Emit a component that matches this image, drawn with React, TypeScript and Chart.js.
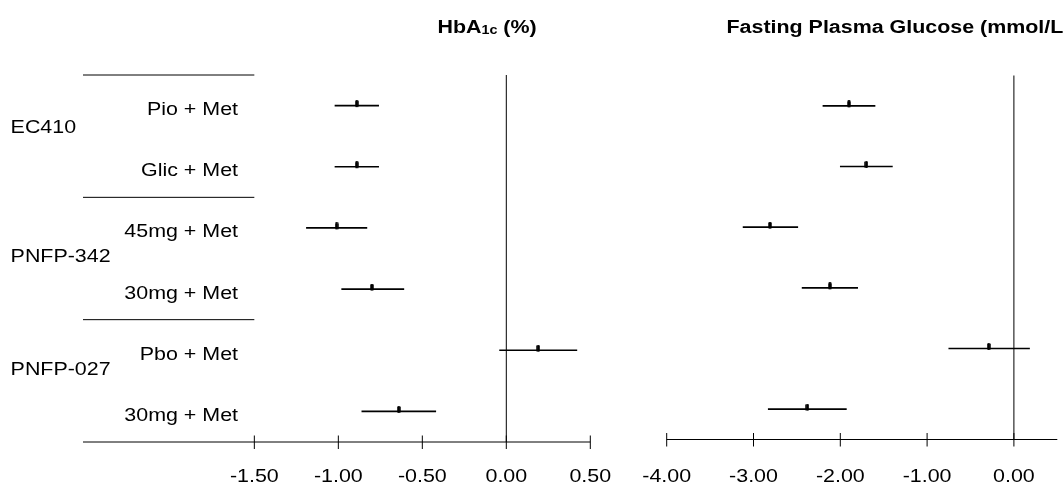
import React, { useEffect, useRef } from 'react';
import { Chart, registerables } from 'chart.js';

Chart.register(...registerables);

// ---------- data ----------
const categories = ['Pio + Met', 'Glic + Met', '45mg + Met', '30mg + Met', 'Pbo + Met', '30mg + Met'];
const groups = ['EC410', 'PNFP-342', 'PNFP-027'];
const groupStartRow = [0, 2, 4];

const hba1cMean = [-0.89, -0.89, -1.01, -0.8, 0.19, -0.64];
const hba1cLow = [-1.02, -1.02, -1.19, -0.98, -0.04, -0.86];
const hba1cHigh = [-0.76, -0.76, -0.83, -0.61, 0.42, -0.42];
const hba1cTicks = [-1.5, -1.0, -0.5, 0.0, 0.5];

const fpgMean = [-1.9, -1.7, -2.81, -2.12, -0.29, -2.38];
const fpgLow = [-2.2, -2.0, -3.12, -2.44, -0.75, -2.83];
const fpgHigh = [-1.6, -1.4, -2.49, -1.8, 0.18, -1.93];
const fpgTicks = [-4.0, -3.0, -2.0, -1.0, 0.0];

// ---------- layout / style ----------
const FONT = '"Liberation Sans", Arial, Helvetica, sans-serif';
const STRETCH = 1.19;
const GROUP_LABEL_BASELINE_ROW = [0.95, 3.05, 4.9];

type Seg = { text: string; size: number; dy: number };

function drawText(
  ctx: CanvasRenderingContext2D,
  text: string,
  x: number,
  y: number,
  size: number,
  bold: boolean,
  align: CanvasTextAlign
): number {
  ctx.save();
  ctx.font = `${bold ? 'bold ' : ''}${size}px ${FONT}`;
  ctx.textAlign = align;
  ctx.textBaseline = 'alphabetic';
  ctx.fillStyle = '#000';
  ctx.translate(x, y);
  ctx.scale(STRETCH, 1);
  ctx.fillText(text, 0, 0);
  const w = ctx.measureText(text).width * STRETCH;
  ctx.restore();
  return w;
}

function line(ctx: CanvasRenderingContext2D, x1: number, y1: number, x2: number, y2: number) {
  ctx.beginPath();
  ctx.moveTo(x1, y1);
  ctx.lineTo(x2, y2);
  ctx.stroke();
}

interface PanelCfg {
  mean: number[];
  low: number[];
  high: number[];
  ticks: number[];
  min: number;
  max: number;
  padding: { left: number; right: number; top: number; bottom: number };
  withLabels: boolean;
  title: Seg[];
  titleX: number;
  titleY: number;
  tickLabelY: number;
}

function makeDecor(cfg: PanelCfg) {
  return {
    id: 'forestDecor',
    beforeDatasetsDraw(chart: any) {
      const { ctx, chartArea } = chart;
      const x = chart.scales.x;
      const y = chart.scales.y;
      ctx.save();
      ctx.strokeStyle = '#000';
      ctx.lineWidth = 1;
      const axisY = chartArea.bottom;
      // axis line
      line(ctx, chartArea.left, axisY, chartArea.right, axisY);
      // ticks + labels
      for (const t of x.ticks) {
        const px = x.getPixelForValue(t.value);
        line(ctx, px, axisY - 6.5, px, axisY + 7);
        drawText(ctx, Number(t.value).toFixed(2), px, cfg.tickLabelY, 18, false, 'center');
      }
      // zero reference line
      const p0 = x.getPixelForValue(0);
      line(ctx, p0, chartArea.top, p0, axisY);

      if (cfg.withLabels) {
        const colEnd = x.getPixelForValue(cfg.ticks[0]);
        for (let g = 0; g < groups.length; g++) {
          const sy = y.getPixelForValue(groupStartRow[g]);
          line(ctx, chartArea.left, sy, colEnd, sy);
          drawText(ctx, groups[g], 10.6, y.getPixelForValue(GROUP_LABEL_BASELINE_ROW[g]), 18, false, 'left');
        }
        categories.forEach((c, i) => {
          drawText(ctx, c, colEnd - 16.3, y.getPixelForValue(i + 0.5) + 9.5, 18, false, 'right');
        });
      }
      // title
      let tx = cfg.titleX;
      for (const s of cfg.title) {
        tx += drawText(ctx, s.text, tx, cfg.titleY + s.dy, s.size, true, 'left');
      }
      ctx.restore();
    },
  };
}

function makeMarker(): HTMLCanvasElement {
  const c = document.createElement('canvas');
  c.width = 4;
  c.height = 11;
  const g = c.getContext('2d')!;
  g.fillStyle = '#000';
  g.beginPath();
  if ((g as any).roundRect) {
    (g as any).roundRect(0.25, 0, 3.5, 7, 1.5);
  } else {
    g.rect(0.25, 0, 3.5, 7);
  }
  g.fill();
  return c;
}

function buildChart(canvas: HTMLCanvasElement, cfg: PanelCfg) {
  const marker = makeMarker();
  return new Chart(canvas, {
    type: 'bar',
    data: {
      datasets: [
        {
          type: 'scatter',
          data: cfg.mean.map((m, i) => ({ x: m, y: i + 0.5 })),
          pointStyle: marker as any,
          radius: 3,
          order: 0,
        } as any,
        {
          type: 'bar',
          data: cfg.low.map((l, i) => ({ x: [l, cfg.high[i]], y: i + 0.5 })),
          backgroundColor: '#000',
          borderWidth: 0,
          barThickness: 1,
          grouped: false,
          indexAxis: 'y',
          order: 1,
        } as any,
      ],
    },
    options: {
      animation: false,
      responsive: false,
      devicePixelRatio: 1,
      indexAxis: 'y',
      events: [],
      layout: { padding: cfg.padding },
      plugins: { legend: { display: false }, tooltip: { enabled: false } },
      scales: {
        x: {
          type: 'linear',
          min: cfg.min,
          max: cfg.max,
          offset: false,
          afterBuildTicks: (s: any) => {
            s.ticks = cfg.ticks.map((v) => ({ value: v }));
          },
          ticks: { display: false },
          grid: { display: false, drawTicks: false, offset: false },
          border: { display: false },
        },
        y: {
          type: 'linear',
          min: 0,
          max: categories.length,
          reverse: true,
          offset: false,
          grid: { offset: false },
          display: false,
        },
      },
    } as any,
    plugins: [makeDecor(cfg) as any],
  });
}

export default function App() {
  const leftRef = useRef<HTMLCanvasElement>(null);
  const rightRef = useRef<HTMLCanvasElement>(null);

  useEffect(() => {
    const left = buildChart(leftRef.current!, {
      mean: hba1cMean,
      low: hba1cLow,
      high: hba1cHigh,
      ticks: hba1cTicks,
      min: -2.52,
      max: 0.5,
      padding: { left: 83, right: 29.7, top: 75, bottom: 42 },
      withLabels: true,
      title: [
        { text: 'HbA', size: 18, dy: 0 },
        { text: '1c', size: 12, dy: 1 },
        { text: ' (%)', size: 18, dy: 0 },
      ],
      titleX: 437.5,
      titleY: 33.3,
      tickLabelY: 482.3,
    });
    const right = buildChart(rightRef.current!, {
      mean: fpgMean,
      low: fpgLow,
      high: fpgHigh,
      ticks: fpgTicks,
      min: -4,
      max: 0.5,
      padding: { left: 46.7, right: 5.7, top: 75.5, bottom: 44.5 },
      withLabels: false,
      title: [{ text: 'Fasting Plasma Glucose (mmol/L)', size: 18, dy: 0 }],
      titleX: 106.5,
      titleY: 33.3,
      tickLabelY: 482.3,
    });
    return () => {
      left.destroy();
      right.destroy();
    };
  }, []);

  return (
    <div
      style={{
        position: 'fixed',
        left: 0,
        top: 0,
        width: 1063,
        height: 484,
        background: '#fff',
        overflow: 'hidden',
      }}
    >
      <canvas
        ref={leftRef}
        width={620}
        height={484}
        style={{ position: 'absolute', left: 0, top: 0, width: 620, height: 484 }}
      />
      <canvas
        ref={rightRef}
        width={443}
        height={484}
        style={{ position: 'absolute', left: 620, top: 0, width: 443, height: 484 }}
      />
    </div>
  );
}
